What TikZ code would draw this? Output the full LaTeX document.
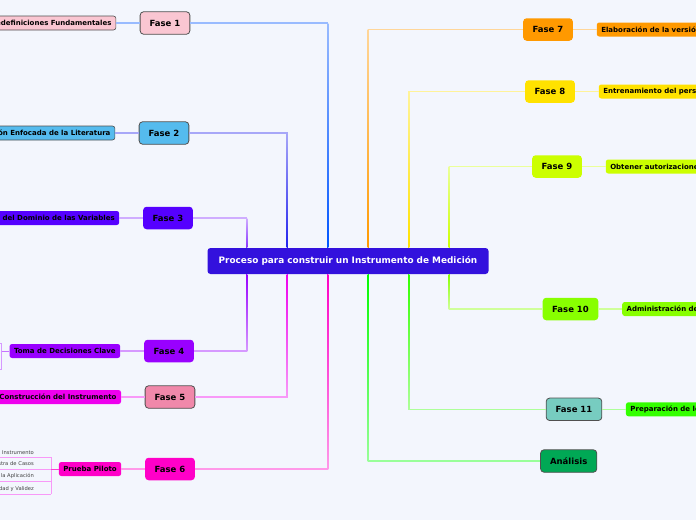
\documentclass[tikz,border=0pt]{standalone}
\usepackage{fontspec}
\setmainfont{DejaVu Sans}
\usepackage{tikz}
\usetikzlibrary{positioning}
\definecolor{mapbg}{RGB}{243,246,253}
\definecolor{rootblue}{RGB}{51,17,221}
\definecolor{edgegray}{RGB}{80,80,80}
\definecolor{br1}{RGB}{0,85,255}
\definecolor{br2}{RGB}{34,34,238}
\definecolor{br3}{RGB}{136,51,255}
\definecolor{br4}{RGB}{153,0,255}
\definecolor{br5}{RGB}{238,0,238}
\definecolor{br6}{RGB}{255,0,200}
\definecolor{br7}{RGB}{255,153,0}
\definecolor{br8}{RGB}{255,226,0}
\definecolor{br9}{RGB}{204,255,0}
\definecolor{br10}{RGB}{136,255,0}
\definecolor{br11}{RGB}{51,255,0}
\definecolor{brA}{RGB}{0,255,0}
\definecolor{pinkA}{RGB}{250,198,210}
\definecolor{skyA}{RGB}{85,187,238}
\definecolor{violetA}{RGB}{85,0,255}
\definecolor{pinkB}{RGB}{240,136,170}
\definecolor{tealA}{RGB}{119,204,192}
\definecolor{greenA}{RGB}{0,168,85}
\tikzset{
  central/.style = {fill=rootblue, text=white, rounded corners=3pt, font=\bfseries\fontsize{8.9}{10}\selectfont, minimum width=281pt, minimum height=26pt},
  fase/.style    = {rounded corners=3.5pt, font=\bfseries\fontsize{8.5}{10}\selectfont, inner xsep=9.5pt, minimum height=22.5pt},
  ofase/.style   = {fase, draw=edgegray, line width=0.8pt},
  topic/.style   = {rounded corners=2.5pt, font=\bfseries\fontsize{7}{8}\selectfont, inner xsep=4.5pt, minimum height=14pt},
  sub/.style     = {font=\fontsize{5.2}{6}\selectfont, text=black!75, text width=140pt, align=right, inner xsep=0pt, inner ysep=2.5pt, anchor=south east},
  link/.style    = {line width=1.2pt, draw=#1!40},
  twig/.style    = {line width=1.5pt, draw=#1!40},
  sublink/.style = {line width=0.9pt, draw=#1!40},
}

\begin{document}
\begin{tikzpicture}[x=1pt, y=-1pt, node distance=23.5pt]
  \useasboundingbox (0,0) rectangle (696,520);
  \fill[mapbg] (0,0) rectangle (696,520);
  \clip (0,0) rectangle (696,520);

  \node[central] (root) at (348,261) {Proceso para construir un Instrumento de Medición};
  \foreach \i in {1,...,6} {
    \coordinate (rt\i) at ([xshift={40.5*\i-1}]root.north west);
    \coordinate (rb\i) at ([xshift={40.5*\i-1}]root.south west);
  }

  \node[ofase, fill=pinkA] (f1) at (165,23) {Fase 1};
  \node[ofase, fill=skyA] (f2) at (164,133) {Fase 2};
  \node[fase, fill=violetA] (f3) at (168,218) {Fase 3};
  \node[fase, fill=br4] (f4) at (169,351) {Fase 4};
  \node[ofase, fill=pinkB] (f5) at (170,397) {Fase 5};
  \node[fase, fill=br6] (f6) at (170,469) {Fase 6};
  \node[fase, fill=br7] (f7) at (548,29.5) {Fase 7};
  \node[fase, fill=br8] (f8) at (550,91.5) {Fase 8};
  \node[fase, fill=br9] (f9) at (557,166.5) {Fase 9};
  \node[fase, fill=br10] (f10) at (570.5,309) {Fase 10};
  \node[ofase, fill=tealA] (f11) at (574,409.3) {Fase 11};
  \node[ofase, fill=greenA] (an) at (568.7,461) {Análisis};

  \node[topic, fill=pinkA, draw=edgegray, line width=0.6pt, left=of f1] (c1) {Redefiniciones Fundamentales};
  \node[topic, fill=skyA, draw=edgegray, line width=0.6pt, left=of f2] (c2) {Revisión Enfocada de la Literatura};
  \node[topic, fill=violetA, left=of f3] (c3) {Identificación del Dominio de las Variables};
  \node[topic, fill=br4, left=of f4] (c4) {Toma de Decisiones Clave};
  \node[topic, fill=br5, left=of f5] (c5) {Construcción del Instrumento};
  \node[topic, fill=br6, left=of f6] (c6) {Prueba Piloto};
  \node[topic, fill=br7, right=of f7] (c7) {Elaboración de la versión final};
  \node[topic, fill=br8, right=of f8] (c8) {Entrenamiento del personal};
  \node[topic, fill=br9, right=of f9] (c9) {Obtener autorizaciones};
  \node[topic, fill=br10, right=of f10] (c10) {Administración del instrumento};
  \node[topic, fill=br11, right=of f11] (c11) {Preparación de los datos};

  \node[sub] (g1) at (34,457) {Administrar el Instrumento};
  \node[sub] (g2) at (34,469) {Pequeña Muestra de Casos};
  \node[sub] (g3) at (34,481.5) {Condiciones de la Aplicación};
  \node[sub] (g4) at (34,494) {Confiabilidad y Validez};
  \coordinate (hub6) at (51,469);
  \coordinate (hub4) at (1.5,351);

  \foreach \f/\p/\c/\t/\b in {f3/rt1/br3/br3!40/br3, f2/rt2/br2/br2!40/br2,
      f1/rt3/br1/br1!40/br1, f7/rt4/br7/br7!40/br7, f8/rt5/br8/br8!40/br8,
      f9/rt6/br9/br9!40/br9, f4/rb1/br4/br4/br4!40, f5/rb2/br5/br5/br5!40,
      f6/rb3/br6/br6/br6!40, an/rb4/brA/brA/brA!40, f11/rb5/br11/br11/br11!40,
      f10/rb6/br10/br10/br10!40} {
    \draw[link=\c] (\f) -| (\p);
    \shade[top color=\t, bottom color=\b] (\f -| \p) ++(-0.6pt,0) rectangle ([xshift=0.6pt]\p);
  }

  \draw[twig=br1] (c1) -- (f1); \draw[twig=br2] (c2) -- (f2);
  \draw[twig=br3] (c3) -- (f3); \draw[twig=br4] (c4) -- (f4);
  \draw[twig=br5] (c5) -- (f5); \draw[twig=br6] (c6) -- (f6);
  \draw[twig=br7] (f7) -- (c7); \draw[twig=br8] (f8) -- (c8);
  \draw[twig=br9] (f9) -- (c9); \draw[twig=br10] (f10) -- (c10);
  \draw[twig=br11] (f11) -- (c11);

  \foreach \g in {g1,g2,g3,g4}
    \draw[sublink=br5] (\g.south west) -- (\g.south -| hub6);
  \draw[sublink=br5] (g1.south -| hub6) -- (g4.south -| hub6);
  \draw[line width=1pt, draw=br6!75] (hub6) -- (c6);
  \draw[sublink=br4] ([xshift=-4pt, yshift=8pt]hub4) -| ([yshift=-18pt]hub4) -- +(-4pt,0);
  \draw[line width=1pt, draw=br4!55] (hub4) -- (c4);
\end{tikzpicture}
\end{document}
